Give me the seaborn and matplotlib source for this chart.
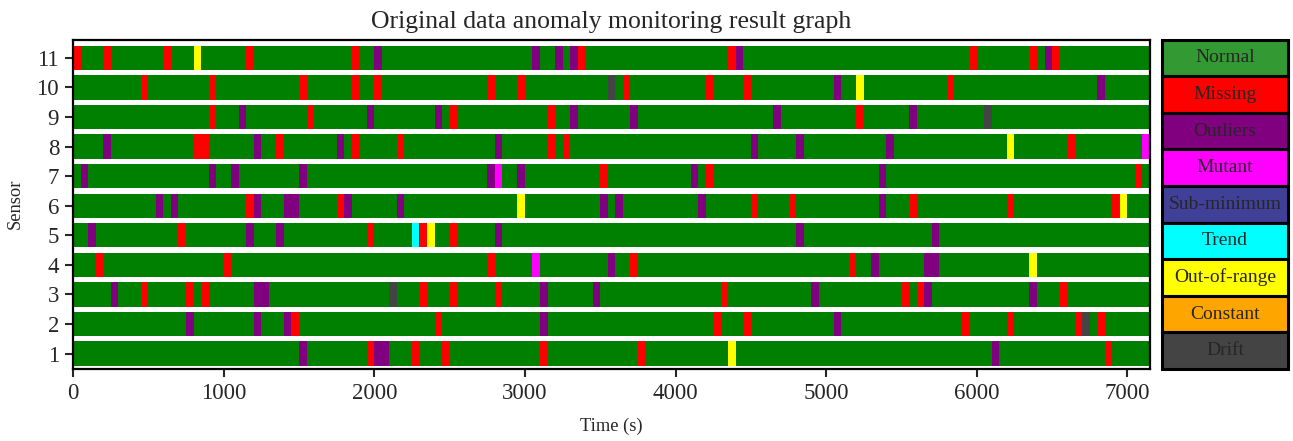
#! /usr/bin/env python3

# libraries
import matplotlib

matplotlib.use("Agg")
import matplotlib.pyplot as plt
import seaborn as sns

sns.set_style("ticks")
plt.rcParams["font.family"] = ["Liberation Serif", "DejaVu Serif"]

# data: (start s, end s, state) for every anomaly window, per sensor
t_end = 7150
sensor_11 = [(0, 50, "Missing"), (200, 250, "Missing"), (600, 650, "Missing"),
             (800, 850, "Out-of-range"), (1150, 1200, "Missing"), (1850, 1900, "Missing"),
             (2000, 2050, "Outliers"), (3050, 3100, "Outliers"), (3200, 3250, "Outliers"),
             (3300, 3350, "Outliers"), (3350, 3400, "Missing"), (4350, 4400, "Missing"),
             (4400, 4450, "Outliers"), (5950, 6000, "Missing"), (6350, 6400, "Missing"),
             (6450, 6500, "Outliers"), (6500, 6550, "Missing")]
sensor_10 = [(450, 500, "Missing"), (900, 950, "Missing"), (1500, 1550, "Missing"),
             (1850, 1900, "Missing"), (2000, 2050, "Missing"), (2750, 2800, "Missing"),
             (2950, 3000, "Missing"), (3550, 3600, "Drift"), (3650, 3700, "Missing"),
             (4200, 4250, "Missing"), (4450, 4500, "Missing"), (5050, 5100, "Outliers"),
             (5200, 5250, "Out-of-range"), (5800, 5850, "Missing"), (6800, 6850, "Outliers")]
sensor_9 = [(900, 950, "Missing"), (1100, 1150, "Outliers"), (1550, 1600, "Missing"),
            (1950, 2000, "Outliers"), (2400, 2450, "Outliers"), (2500, 2550, "Missing"),
            (3150, 3200, "Missing"), (3300, 3350, "Outliers"), (3700, 3750, "Outliers"),
            (4650, 4700, "Outliers"), (5200, 5250, "Missing"), (5550, 5600, "Outliers"),
            (6050, 6100, "Drift")]
sensor_8 = [(200, 250, "Outliers"), (800, 900, "Missing"), (1200, 1250, "Outliers"),
            (1350, 1400, "Missing"), (1750, 1800, "Outliers"), (1850, 1900, "Missing"),
            (2150, 2200, "Missing"), (2800, 2850, "Outliers"), (3150, 3200, "Missing"),
            (3250, 3300, "Missing"), (4500, 4550, "Outliers"), (4800, 4850, "Outliers"),
            (5400, 5450, "Outliers"), (6200, 6250, "Out-of-range"), (6600, 6650, "Missing"),
            (7100, 7150, "Mutant")]
sensor_7 = [(50, 100, "Outliers"), (900, 950, "Outliers"), (1050, 1100, "Outliers"),
            (1500, 1550, "Outliers"), (2750, 2800, "Outliers"), (2800, 2850, "Mutant"),
            (2950, 3000, "Outliers"), (3500, 3550, "Missing"), (4100, 4150, "Outliers"),
            (4200, 4250, "Missing"), (5350, 5400, "Outliers"), (7050, 7100, "Missing")]
sensor_6 = [(550, 600, "Outliers"), (650, 700, "Outliers"), (1150, 1200, "Missing"),
            (1200, 1250, "Outliers"), (1400, 1500, "Outliers"), (1750, 1800, "Missing"),
            (1800, 1850, "Outliers"), (2150, 2200, "Outliers"), (2950, 3000, "Out-of-range"),
            (3500, 3550, "Outliers"), (3600, 3650, "Outliers"), (4150, 4200, "Outliers"),
            (4500, 4550, "Missing"), (4750, 4800, "Missing"), (5350, 5400, "Outliers"),
            (5550, 5600, "Missing"), (6200, 6250, "Missing"), (6900, 6950, "Missing"),
            (6950, 7000, "Out-of-range")]
sensor_5 = [(100, 150, "Outliers"), (700, 750, "Missing"), (1150, 1200, "Outliers"),
            (1350, 1400, "Outliers"), (1950, 2000, "Missing"), (2250, 2300, "Trend"),
            (2300, 2350, "Missing"), (2350, 2400, "Out-of-range"), (2500, 2550, "Missing"),
            (2800, 2850, "Outliers"), (4800, 4850, "Outliers"), (5700, 5750, "Outliers")]
sensor_4 = [(150, 200, "Missing"), (1000, 1050, "Missing"), (2750, 2800, "Missing"),
            (3050, 3100, "Mutant"), (3550, 3600, "Outliers"), (3700, 3750, "Missing"),
            (5150, 5200, "Missing"), (5300, 5350, "Outliers"), (5650, 5750, "Outliers"),
            (6350, 6400, "Out-of-range")]
sensor_3 = [(250, 300, "Outliers"), (450, 500, "Missing"), (750, 800, "Missing"),
            (850, 900, "Missing"), (1200, 1300, "Outliers"), (2100, 2150, "Drift"),
            (2300, 2350, "Missing"), (2500, 2550, "Missing"), (2800, 2850, "Missing"),
            (3100, 3150, "Outliers"), (3450, 3500, "Outliers"), (4300, 4350, "Missing"),
            (4900, 4950, "Outliers"), (5500, 5550, "Missing"), (5600, 5650, "Missing"),
            (5650, 5700, "Outliers"), (6350, 6400, "Outliers"), (6550, 6600, "Missing")]
sensor_2 = [(750, 800, "Outliers"), (1200, 1250, "Outliers"), (1400, 1450, "Outliers"),
            (1450, 1500, "Missing"), (2400, 2450, "Missing"), (3100, 3150, "Outliers"),
            (4250, 4300, "Missing"), (4450, 4500, "Missing"), (5050, 5100, "Outliers"),
            (5900, 5950, "Missing"), (6200, 6250, "Missing"), (6650, 6700, "Missing"),
            (6700, 6750, "Drift"), (6800, 6850, "Missing")]
sensor_1 = [(1500, 1550, "Outliers"), (1950, 2000, "Missing"), (2000, 2100, "Outliers"),
            (2250, 2300, "Missing"), (2450, 2500, "Missing"), (3100, 3150, "Missing"),
            (3750, 3800, "Missing"), (4350, 4400, "Out-of-range"), (6100, 6150, "Outliers"),
            (6850, 6900, "Missing")]

sensors = [sensor_1, sensor_2, sensor_3, sensor_4, sensor_5, sensor_6,
           sensor_7, sensor_8, sensor_9, sensor_10, sensor_11]

states = ["Normal", "Missing", "Outliers", "Mutant", "Sub-minimum",
          "Trend", "Out-of-range", "Constant", "Drift"]
state_colors = ["green", "red", "purple", "magenta", "#404098",
                "cyan", "yellow", "orange", "#444444"]
legend_colors = ["#339933"] + state_colors[1:]
color_of = dict(zip(states, state_colors))

# figure
fig = plt.figure(figsize=(12.93, 4.41), dpi=100)
ax = fig.add_axes([0.0565, 0.1633, 0.8329, 0.7471])
lax = fig.add_axes([0.8987, 0.1633, 0.0974, 0.7471])

bar_h = 0.82
for i, segs in enumerate(sensors):
    y = i + 1
    ax.barh(y, t_end, left=0, height=bar_h, color=color_of["Normal"], linewidth=0)
    for start, end, state in segs:
        ax.barh(y, end - start, left=start, height=bar_h,
                color=color_of[state], linewidth=0)

ax.set_xlim(0, t_end)
ax.set_ylim(0.48, 11.62)
ax.set_yticks(range(1, 12))
ax.set_xticks(range(0, 7001, 1000))
ax.tick_params(labelsize=16.5, length=6, width=1.5, direction="out", pad=4)
for s in ax.spines.values():
    s.set_linewidth(1.6)
    s.set_color("black")
ax.set_xlabel("Time (s)", fontsize=13.3, labelpad=10)
ax.set_ylabel("Sensor", fontsize=13.3, labelpad=9)
ax.set_title("Original data anomaly monitoring result graph", fontsize=18.5, pad=8)

# legend drawn as a column of colour boxes
sns.barplot(x=[1] * len(states), y=states, hue=states, palette=legend_colors,
            width=1, edgecolor="black", linewidth=2.2, legend=False, ax=lax,
            saturation=1)
for p in lax.patches:
    p.set_clip_on(False)
for i, name in enumerate(states):
    lax.text(0.5, i, name, ha="center", va="center", fontsize=14)
lax.set_xlim(0, 1)
lax.set_ylim(len(states) - 0.5, -0.5)
lax.axis("off")

plt.savefig("out.png", dpi=100)
